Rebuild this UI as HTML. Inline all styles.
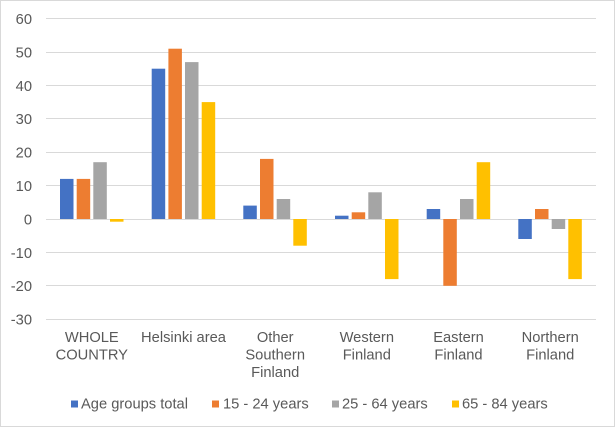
<!DOCTYPE html>
<html>
<head>
<meta charset="utf-8">
<style>
html,body{margin:0;padding:0;background:#fff;}
svg{display:block;}
text{font-family:"Liberation Sans",Arial,sans-serif;font-size:14.7px;fill:#595959;}
</style>
</head>
<body>
<svg width="615" height="427" viewBox="0 0 615 427" xmlns="http://www.w3.org/2000/svg">
<rect x="0" y="0" width="615" height="427" fill="#fff"/>
<rect x="0.5" y="0.5" width="614" height="426" fill="none" stroke="#d9d9d9" stroke-width="1"/>
<!-- gridlines -->
<g stroke="#d9d9d9" stroke-width="1">
<line x1="46" x2="596" y1="18.5" y2="18.5"/>
<line x1="46" x2="596" y1="52.5" y2="52.5"/>
<line x1="46" x2="596" y1="85.5" y2="85.5"/>
<line x1="46" x2="596" y1="118.5" y2="118.5"/>
<line x1="46" x2="596" y1="152.5" y2="152.5"/>
<line x1="46" x2="596" y1="185.5" y2="185.5"/>
<line x1="46" x2="596" y1="219.5" y2="219.5"/>
<line x1="46" x2="596" y1="252.5" y2="252.5"/>
<line x1="46" x2="596" y1="285.5" y2="285.5"/>
<line x1="46" x2="596" y1="319.5" y2="319.5"/>
</g>
<!-- y labels -->
<g text-anchor="end">
<text x="32" y="24">60</text>
<text x="32" y="57.5">50</text>
<text x="32" y="91">40</text>
<text x="32" y="124">30</text>
<text x="32" y="157.5">20</text>
<text x="32" y="191">10</text>
<text x="32" y="224.5">0</text>
<text x="32" y="258">-10</text>
<text x="32" y="291">-20</text>
<text x="32" y="324.5">-30</text>
</g>
<!-- bars: y(v)=219-3.339v -->
<g>
<!-- WHOLE COUNTRY -->
<rect x="60" y="178.9" width="13.5" height="40.1" fill="#4472C4"/>
<rect x="76.7" y="178.9" width="13.5" height="40.1" fill="#ED7D31"/>
<rect x="93.3" y="162.2" width="13.5" height="56.8" fill="#A5A5A5"/>
<rect x="110" y="219" width="13.5" height="2.7" fill="#FFC000"/>
<!-- Helsinki -->
<rect x="151.7" y="68.7" width="13.5" height="150.3" fill="#4472C4"/>
<rect x="168.4" y="48.7" width="13.5" height="170.3" fill="#ED7D31"/>
<rect x="185" y="62.1" width="13.5" height="156.9" fill="#A5A5A5"/>
<rect x="201.7" y="102.1" width="13.5" height="116.9" fill="#FFC000"/>
<!-- Other Southern -->
<rect x="243.3" y="205.6" width="13.5" height="13.4" fill="#4472C4"/>
<rect x="260" y="158.9" width="13.5" height="60.1" fill="#ED7D31"/>
<rect x="276.7" y="199" width="13.5" height="20" fill="#A5A5A5"/>
<rect x="293.3" y="219" width="13.5" height="26.7" fill="#FFC000"/>
<!-- Western -->
<rect x="335" y="215.7" width="13.5" height="3.3" fill="#4472C4"/>
<rect x="351.7" y="212.3" width="13.5" height="6.7" fill="#ED7D31"/>
<rect x="368.3" y="192.3" width="13.5" height="26.7" fill="#A5A5A5"/>
<rect x="385" y="219" width="13.5" height="60.1" fill="#FFC000"/>
<!-- Eastern -->
<rect x="426.7" y="209" width="13.5" height="10" fill="#4472C4"/>
<rect x="443.3" y="219" width="13.5" height="66.8" fill="#ED7D31"/>
<rect x="460" y="199" width="13.5" height="20" fill="#A5A5A5"/>
<rect x="476.7" y="162.2" width="13.5" height="56.8" fill="#FFC000"/>
<!-- Northern -->
<rect x="518.3" y="219" width="13.5" height="20" fill="#4472C4"/>
<rect x="535" y="209" width="13.5" height="10" fill="#ED7D31"/>
<rect x="551.7" y="219" width="13.5" height="10" fill="#A5A5A5"/>
<rect x="568.3" y="219" width="13.5" height="60.1" fill="#FFC000"/>
</g>
<!-- category labels -->
<g text-anchor="middle">
<text x="91.8" y="342">WHOLE</text>
<text x="91.8" y="359.5">COUNTRY</text>
<text x="183.5" y="342">Helsinki area</text>
<text x="275.2" y="342">Other</text>
<text x="275.2" y="359.5">Southern</text>
<text x="275.2" y="377">Finland</text>
<text x="366.8" y="342">Western</text>
<text x="366.8" y="359.5">Finland</text>
<text x="458.5" y="342">Eastern</text>
<text x="458.5" y="359.5">Finland</text>
<text x="550.2" y="342">Northern</text>
<text x="550.2" y="359.5">Finland</text>
</g>
<!-- legend -->
<rect x="71" y="400.5" width="7" height="7" fill="#4472C4"/>
<text x="81" y="408.5">Age groups total</text>
<rect x="212" y="400.5" width="7" height="7" fill="#ED7D31"/>
<text x="223" y="408.5">15 - 24 years</text>
<rect x="332" y="400.5" width="7" height="7" fill="#A5A5A5"/>
<text x="342" y="408.5">25 - 64 years</text>
<rect x="452" y="400.5" width="7" height="7" fill="#FFC000"/>
<text x="462" y="408.5">65 - 84 years</text>
</svg>
</body>
</html>
